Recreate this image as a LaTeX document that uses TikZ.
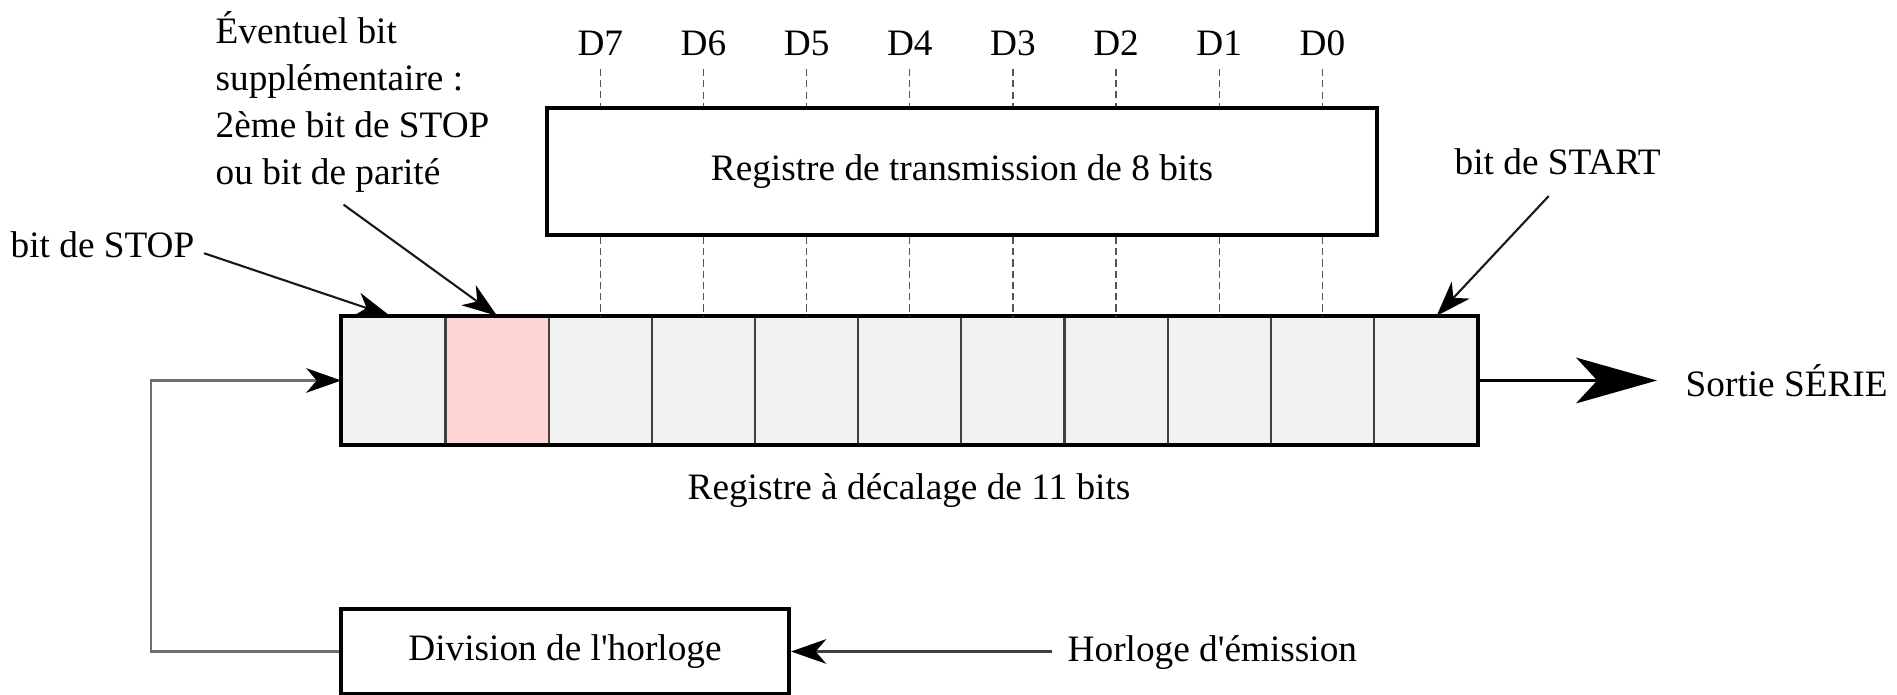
\documentclass[tikz,border=0pt]{standalone}
\usepackage{fontspec}
\setmainfont{Liberation Serif}[Ligatures=TeXOff]
\usetikzlibrary{arrows.meta,calc}
\definecolor{cellgray}{HTML}{F2F2F2}
\definecolor{cellpink}{HTML}{FFD5D6}
\definecolor{fbgray}{HTML}{707070}
\definecolor{dashgray}{HTML}{555555}
\tikzset{
  txt/.style={font=\fontsize{10.6}{13.3}\selectfont},
  lbl/.style={txt, inner sep=0pt},
  cell/.style={draw=black!75, line width=0.6pt, fill=cellgray, minimum width=1.0316cm, minimum height=1.27cm, inner sep=0pt},
  pinkcell/.style={cell, fill=cellpink},
  box/.style={txt, draw=black, line width=1.1pt, inner sep=0pt},
  regborder/.style={draw=black, line width=1.1pt},
  dl/.style={draw=dashgray, line width=0.4pt, dash pattern=on 2pt off 1.2pt},
  smallhead/.style={-{Stealth[length=10pt, width=7pt, inset=3pt, color=black]}},
  annot/.style={smallhead, draw=black!90, line width=0.6pt},
  fb/.style={smallhead, draw=fbgray, line width=0.7pt},
  outarrow/.style={-{Stealth[length=23pt, width=13pt, inset=6pt]}, draw=black, line width=0.9pt},
}
\begin{document}
\begin{tikzpicture}[x=0.01cm, y=-0.01cm]
\useasboundingbox (0,0) rectangle (1897,695);

% shift register cells
\foreach \i in {0,...,10}{
  \ifnum\i=1
    \node[pinkcell] (c\i) at ({342.4+103.16*\i+51.58},380.5) {};
  \else
    \node[cell] (c\i) at ({342.4+103.16*\i+51.58},380.5) {};
  \fi
}
\draw[regborder] (c0.north west) rectangle (c10.south east);

% transmission register
\node[box, minimum width=8.3cm, minimum height=1.27cm] (tx) at (962,171.5) {Registre de transmission de 8 bits};

% data bits
\foreach \n/\i in {7/2,6/3,5/4,4/5,3/6,2/7,1/8,0/9}{
  \node[lbl, anchor=base] (d\n) at (c\i |- 0,56) {D\n};
  \draw[dl] ($(d\n.south)+(0,12)$) -- (d\n |- tx.north);
  \draw[dl] (tx.south -| c\i) -- (c\i.north);
}

% annotations
\node[lbl, anchor=north west, align=left] (ev) at (215,11) {Éventuel bit\\supplémentaire :\\2ème bit de STOP\\ou bit de parité};
\draw[annot] ($(ev.south)+(-9,12)$) -- (c1.north);

\node[lbl, anchor=base west] (stop) at (10,258) {bit de STOP};
\draw[annot] ($(stop.east)+(9,8)$) -- ([xshift=-0.04cm]c0.north);

\node[lbl, anchor=base west] (start) at (1454,175) {bit de START};
\draw[annot] ($(start.south)+(-9,20)$) -- ([xshift=0.11cm]c10.north);

% serial output
\coordinate (outtip) at (1657,380.5);
\draw[outarrow] (c10.east) -- (outtip);
\node[lbl, anchor=base west] (sortie) at (1685,397) {Sortie SÉRIE};

\node[lbl, anchor=base] (reglbl) at (909,500) {Registre à décalage de 11 bits};

% clock division
\node[box, minimum width=4.48cm, minimum height=0.85cm] (clk) at (565,651.5) {Division de l'horloge};
\coordinate (fbcorner) at (151,651.5);
\draw[fb] (clk.west) -- (fbcorner) |- (c0.west);

\node[lbl, anchor=base west] (horl) at (1067,662) {Horloge d'émission};
\draw[annot, draw=black!75] ($(horl.west |- clk.east)+(-15,0)$) -- (clk.east);
\end{tikzpicture}
\end{document}
